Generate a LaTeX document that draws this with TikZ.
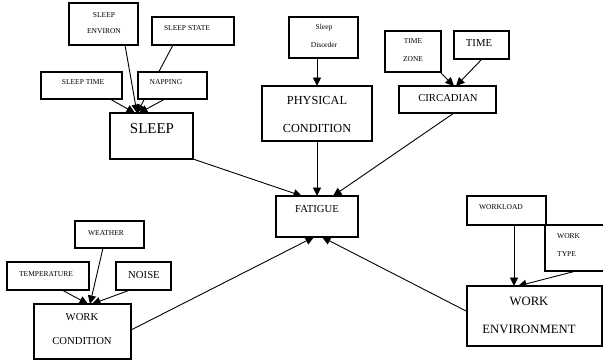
\documentclass[tikz,border=0pt]{standalone}
\usepackage{fontspec}
\setmainfont{Liberation Serif}
\usetikzlibrary{arrows.meta,backgrounds}
\begin{document}
\begin{tikzpicture}[x=1pt,y=-1pt,
  box/.style={draw,line width=1.1pt,fill=white,inner sep=0pt},
  arr/.style={line width=0.9pt,-{Triangle[length=8.5pt,width=8pt]}},
  lab/.style={inner sep=0pt,text=black},
  sm/.style={lab,font=\fontsize{7.5}{9}\selectfont},
  md/.style={lab,font=\fontsize{10.7}{12}\selectfont},
  lg/.style={lab,font=\fontsize{12.3}{14}\selectfont},
  xl/.style={lab,font=\fontsize{15}{17}\selectfont}]
\useasboundingbox (0,0) rectangle (603,362);
% boxes
\node[box,minimum width=69pt,minimum height=42pt] (senv) at (103.5,24) {};
\node[box,minimum width=82pt,minimum height=28pt] (sstate) at (193,31) {};
\node[box,minimum width=81pt,minimum height=27pt] (stime) at (81.5,85.5) {};
\node[box,minimum width=69pt,minimum height=27pt] (nap) at (172.5,85.5) {};
\node[box,minimum width=83pt,minimum height=46pt] (sleep) at (151.5,136) {};
\node[box,minimum width=69pt,minimum height=41pt] (sdis) at (323.5,37.5) {};
\node[box,minimum width=110pt,minimum height=55pt] (phys) at (317,113.5) {};
\node[box,minimum width=56pt,minimum height=41pt] (tz) at (413,51.5) {};
\node[box,minimum width=55pt,minimum height=28pt] (time) at (481.5,45) {};
\node[box,minimum width=97pt,minimum height=27pt] (circ) at (447.5,99.5) {};
\node[box,minimum width=82pt,minimum height=41pt] (fat) at (317,216.5) {};
\node[box,minimum width=69pt,minimum height=27pt] (weather) at (109.5,234.5) {};
\node[box,minimum width=82pt,minimum height=28pt] (temp) at (48,276) {};
\node[box,minimum width=55pt,minimum height=28pt] (noise) at (143.5,276) {};
\node[box,minimum width=97pt,minimum height=55pt] (wcond) at (82.5,331.5) {};
\node[box,minimum width=79pt,minimum height=29pt] (wload) at (506.5,210.5) {};
\node[box,minimum width=75pt,minimum height=46pt] (wtype) at (582.5,248) {};
\node[box,minimum width=135pt,minimum height=60pt] (wenv) at (534.5,316) {};
% texts
\node[sm] (t-senv1) at (104,15) {SLEEP};
\node[sm] (t-senv2) at (104,31) {ENVIRON};
\node[sm] (t-sstate) at (187,28) {SLEEP STATE};
\node[sm] (t-stime) at (83,82) {SLEEP TIME};
\node[sm] (t-nap) at (166,82) {NAPPING};
\node[xl] (t-sleep) at (152,129) {SLEEP};
\node[sm] (t-sdis1) at (324,28) {Sleep};
\node[sm] (t-sdis2) at (324,45) {Disorder};
\node[lg] (t-phys1) at (317,100) {PHYSICAL};
\node[lg] (t-phys2) at (317,128) {CONDITION};
\node[sm] (t-tz1) at (413,41) {TIME};
\node[sm] (t-tz2) at (413,59) {ZONE};
\node[md] (t-time) at (479,43) {TIME};
\node[md] (t-circ) at (448,98) {CIRCADIAN};
\node[md] (t-fat) at (317,209) {FATIGUE};
\node[sm] (t-weather) at (106,233) {WEATHER};
\node[sm] (t-temp) at (46,274) {TEMPERATURE};
\node[md] (t-noise) at (144,275) {NOISE};
\node[md] (t-wcond1) at (82,317) {WORK};
\node[md] (t-wcond2) at (82,341) {CONDITION};
\node[sm] (t-wload) at (501,207) {WORKLOAD};
\node[sm,anchor=west] (t-wtype1) at (557,236) {WORK};
\node[sm,anchor=west] (t-wtype2) at (557,254) {TYPE};
\node[lab,font=\fontsize{12.7}{14}\selectfont] (t-wenv1) at (529,301) {WORK};
\node[lab,font=\fontsize{12.7}{14}\selectfont] (t-wenv2) at (529,329) {ENVIRONMENT};
% connector ends
\coordinate (senv-o) at (125,45);
\coordinate (sstate-o) at (173,45);
\coordinate (nap-o) at (165,99);
\coordinate (stime-o) at (110,99);
\coordinate (sleep-i1) at (137,113);
\coordinate (sleep-i2) at (139,113);
\coordinate (sleep-i3) at (135,113);
\coordinate (sdis-o) at (317,58);
\coordinate (phys-i) at (317,86);
\coordinate (tz-o) at (440,72);
\coordinate (time-o) at (482,59);
\coordinate (circ-i1) at (454,86);
\coordinate (circ-i2) at (456,86);
\coordinate (circ-o) at (454,113);
\coordinate (phys-o) at (317,141);
\coordinate (sleep-o) at (193,159);
\coordinate (fat-i1) at (333,196);
\coordinate (fat-i2) at (317,196);
\coordinate (fat-i3) at (302,196);
\coordinate (wcond-o) at (131,330);
\coordinate (wenv-o) at (468,312);
\coordinate (fat-i4) at (314,237);
\coordinate (fat-i5) at (322,237);
\coordinate (weather-o) at (103,248);
\coordinate (temp-o) at (62,290);
\coordinate (noise-o) at (130,290);
\coordinate (wcond-i1) at (90,304);
\coordinate (wcond-i2) at (88,304);
\coordinate (wcond-i3) at (92,304);
\coordinate (wload-o) at (514,225);
\coordinate (wtype-o) at (576,271);
\coordinate (wenv-i1) at (514,286);
\coordinate (wenv-i2) at (518,286);
\begin{scope}[on background layer]
\draw[arr] (senv-o) -- (sleep-i1);
\draw[arr] (sstate-o) -- (sleep-i1);
\draw[arr] (nap-o) -- (sleep-i2);
\draw[arr] (stime-o) -- (sleep-i3);
\draw[arr] (sdis-o) -- (phys-i);
\draw[arr] (tz-o) -- (circ-i1);
\draw[arr] (time-o) -- (circ-i2);
\draw[arr] (circ-o) -- (fat-i1);
\draw[arr] (phys-o) -- (fat-i2);
\draw[arr] (sleep-o) -- (fat-i3);
\draw[arr] (wcond-o) -- (fat-i4);
\draw[arr] (wenv-o) -- (fat-i5);
\draw[arr] (weather-o) -- (wcond-i1);
\draw[arr] (temp-o) -- (wcond-i2);
\draw[arr] (noise-o) -- (wcond-i3);
\draw[arr] (wload-o) -- (wenv-i1);
\draw[arr] (wtype-o) -- (wenv-i2);
\end{scope}
\end{tikzpicture}
\end{document}
